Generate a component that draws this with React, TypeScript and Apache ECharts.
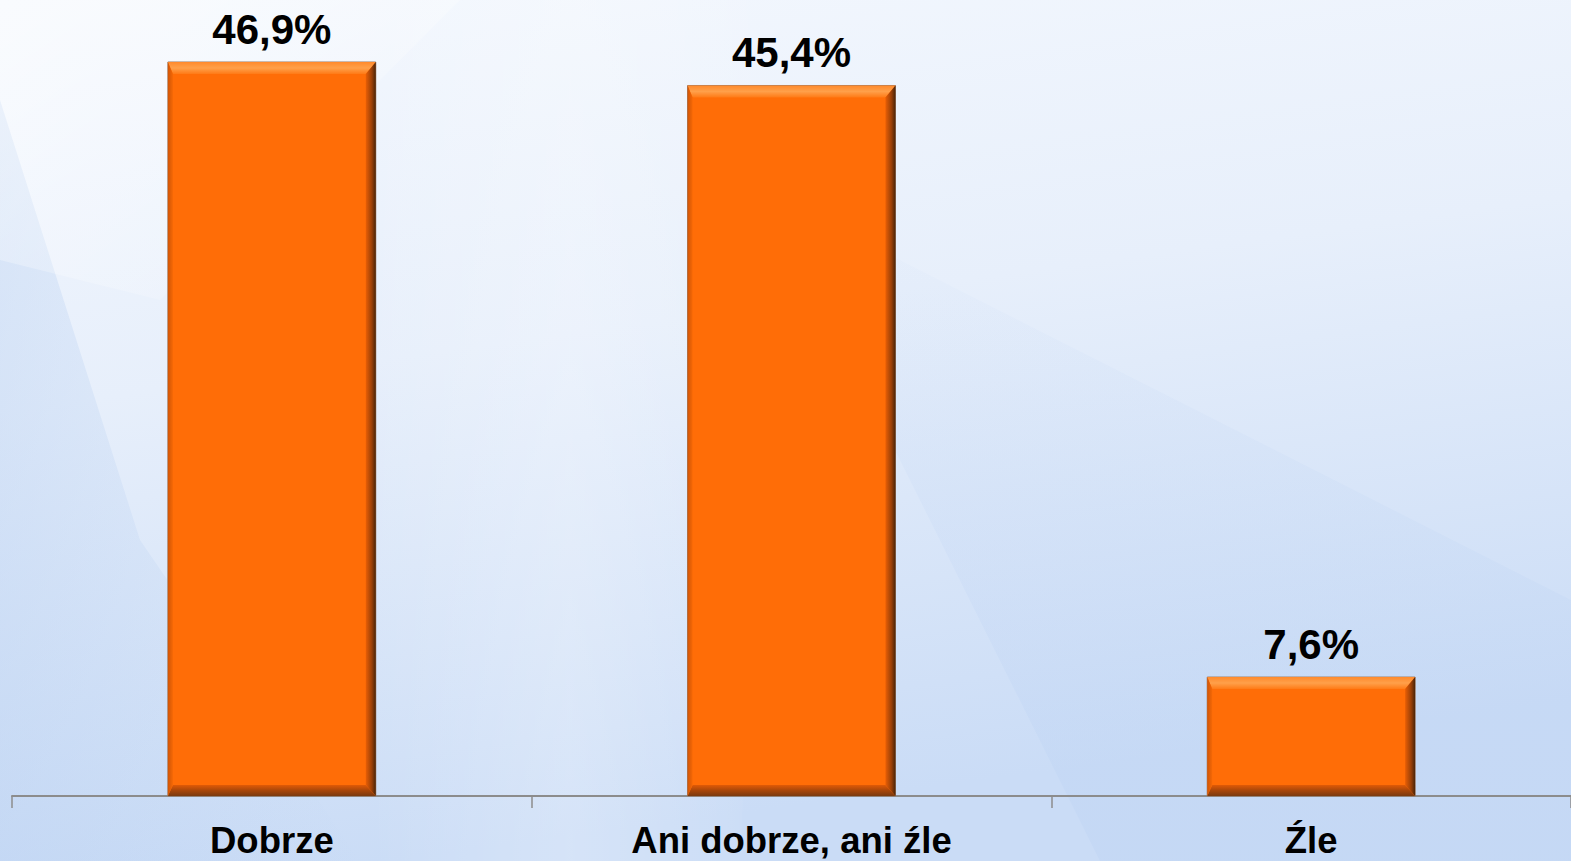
import React, { useEffect, useRef } from "react";
import * as echarts from "echarts";

const categories = ["Dobrze", "Ani dobrze, ani źle", "Źle"];
const values = [46.9, 45.4, 7.6];
const yMin = 0;
const yMax = 50;

function fmt(v: number) {
  return v.toFixed(1).replace(".", ",") + "%";
}

function lg(x: number, y: number, x2: number, y2: number, stops: [number, string][]) {
  return new echarts.graphic.LinearGradient(
    x, y, x2, y2,
    stops.map(([offset, color]) => ({ offset, color }))
  );
}

export default function App() {
  const ref = useRef<HTMLDivElement>(null);
  useEffect(() => {
    document.body.style.margin = "0";
    const el = ref.current!;
    const chart = echarts.init(el, null, { renderer: "svg" });
    const H = 861;
    const option: any = {
      animation: false,
      backgroundColor: {
        type: "linear",
        x: 0,
        y: 0,
        x2: 0.25,
        y2: 1,
        colorStops: [
          { offset: 0, color: "#F4F8FE" },
          { offset: 0.45, color: "#E7EFFB" },
          { offset: 1, color: "#CADCF6" },
        ],
      },
      graphic: [
        {
          type: "polygon",
          silent: true,
          z: -10,
          shape: { points: [[0, 100], [0, 861], [360, 861], [140, 540]] },
          style: { fill: lg(1, 0, 0, 0, [[0, "rgba(180,205,240,0)"], [1, "rgba(180,205,240,0.35)"]]) },
        },
        {
          type: "polygon",
          silent: true,
          z: -10,
          shape: { points: [[360, 0], [780, 0], [740, 861], [380, 861]] },
          style: { fill: lg(0, 0, 1, 0, [[0, "rgba(255,255,255,0)"], [0.5, "rgba(255,255,255,0.22)"], [1, "rgba(255,255,255,0)"]]) },
        },
        {
          type: "polygon",
          silent: true,
          z: -10,
          shape: { points: [[880, 250], [1571, 600], [1571, 861], [1100, 861], [880, 420]] },
          style: { fill: lg(0, 0, 0, 1, [[0, "rgba(185,208,242,0.05)"], [1, "rgba(185,208,242,0.3)"]]) },
        },
        {
          type: "polygon",
          silent: true,
          z: -10,
          shape: { points: [[0, 0], [460, 0], [160, 300], [0, 260]] },
          style: { fill: lg(0, 0, 1, 1, [[0, "rgba(255,255,255,0.5)"], [1, "rgba(255,255,255,0)"]]) },
        },
      ],
      grid: { left: 12, right: 0, top: 796 - (yMax - yMin) * 15.65, bottom: H - 796, containLabel: false },
      xAxis: {
        type: "category",
        data: categories,
        boundaryGap: true,
        axisLine: { show: true, lineStyle: { color: "#8C8C8C", width: 2 } },
        axisTick: { show: true, length: 12, interval: 0, lineStyle: { color: "#8C8C8C", width: 1.5 } },
        axisLabel: {
          interval: 0,
          margin: 26,
          color: "#000",
          fontSize: 36.5,
          fontWeight: "bold",
          fontFamily: "Liberation Sans, Arial, sans-serif",
        },
      },
      yAxis: { type: "value", min: yMin, max: yMax, show: false, splitLine: { show: false } },
      series: [
        {
          type: "custom",
          data: values.map((v, i) => [i, v]),
          encode: { x: 0, y: 1 },
          renderItem: (params: any, api: any) => {
            const idx = api.value(0);
            const val = api.value(1);
            const top = api.coord([idx, val]);
            const base = api.coord([idx, 0]);
            const bw = api.size([1, 0])[0] * 0.4;
            const x0 = top[0] - bw / 2;
            const x1 = top[0] + bw / 2;
            const y0 = top[1];
            const y1 = base[1];
            const bt = 12, br = 10, bb = 11, bl = 5;
            const tl = [x0 + bl, y0 + bt];
            const tr = [x1 - br, y0 + bt];
            const brp = [x1 - br, y1 - bb];
            const blp = [x0 + bl, y1 - bb];
            return {
              type: "group",
              children: [
                {
                  type: "rect",
                  shape: { x: x0, y: y0, width: bw, height: y1 - y0 },
                  style: { fill: "#FF6D07", stroke: "#9A7A66", lineWidth: 1 },
                },
                {
                  type: "polygon",
                  shape: { points: [[x0, y0], [x1, y0], tr, tl] },
                  style: { fill: lg(0, 0, 0, 1, [[0, "#FF8A2C"], [0.5, "#FFA04A"], [1, "#FF7A16"]]) },
                },
                {
                  type: "polygon",
                  shape: { points: [[x1, y0], [x1, y1], brp, tr] },
                  style: { fill: lg(0, 0, 1, 0, [[0, "#E85E05"], [0.6, "#9A4008"], [1, "#4A2408"]]) },
                },
                {
                  type: "polygon",
                  shape: { points: [[x0, y1], [x1, y1], brp, blp] },
                  style: { fill: lg(0, 0, 0, 1, [[0, "#E05A06"], [0.5, "#A8460A"], [1, "#7A3A10"]]) },
                },
                {
                  type: "polygon",
                  shape: { points: [[x0, y0], [x0, y1], blp, tl] },
                  style: { fill: lg(0, 0, 1, 0, [[0, "#D05506"], [1, "#F56806"]]) },
                },
                {
                  type: "text",
                  style: {
                    text: fmt(val),
                    x: top[0],
                    y: y0 - 12,
                    align: "center",
                    verticalAlign: "bottom",
                    fill: "#000",
                    fontSize: 42,
                    fontWeight: "bold",
                    fontFamily: "Liberation Sans, Arial, sans-serif",
                  },
                },
              ],
            };
          },
        },
      ],
    };
    chart.setOption(option);
    return () => chart.dispose();
  }, []);
  return <div ref={ref} style={{ width: 1571, height: 861 }} />;
}
